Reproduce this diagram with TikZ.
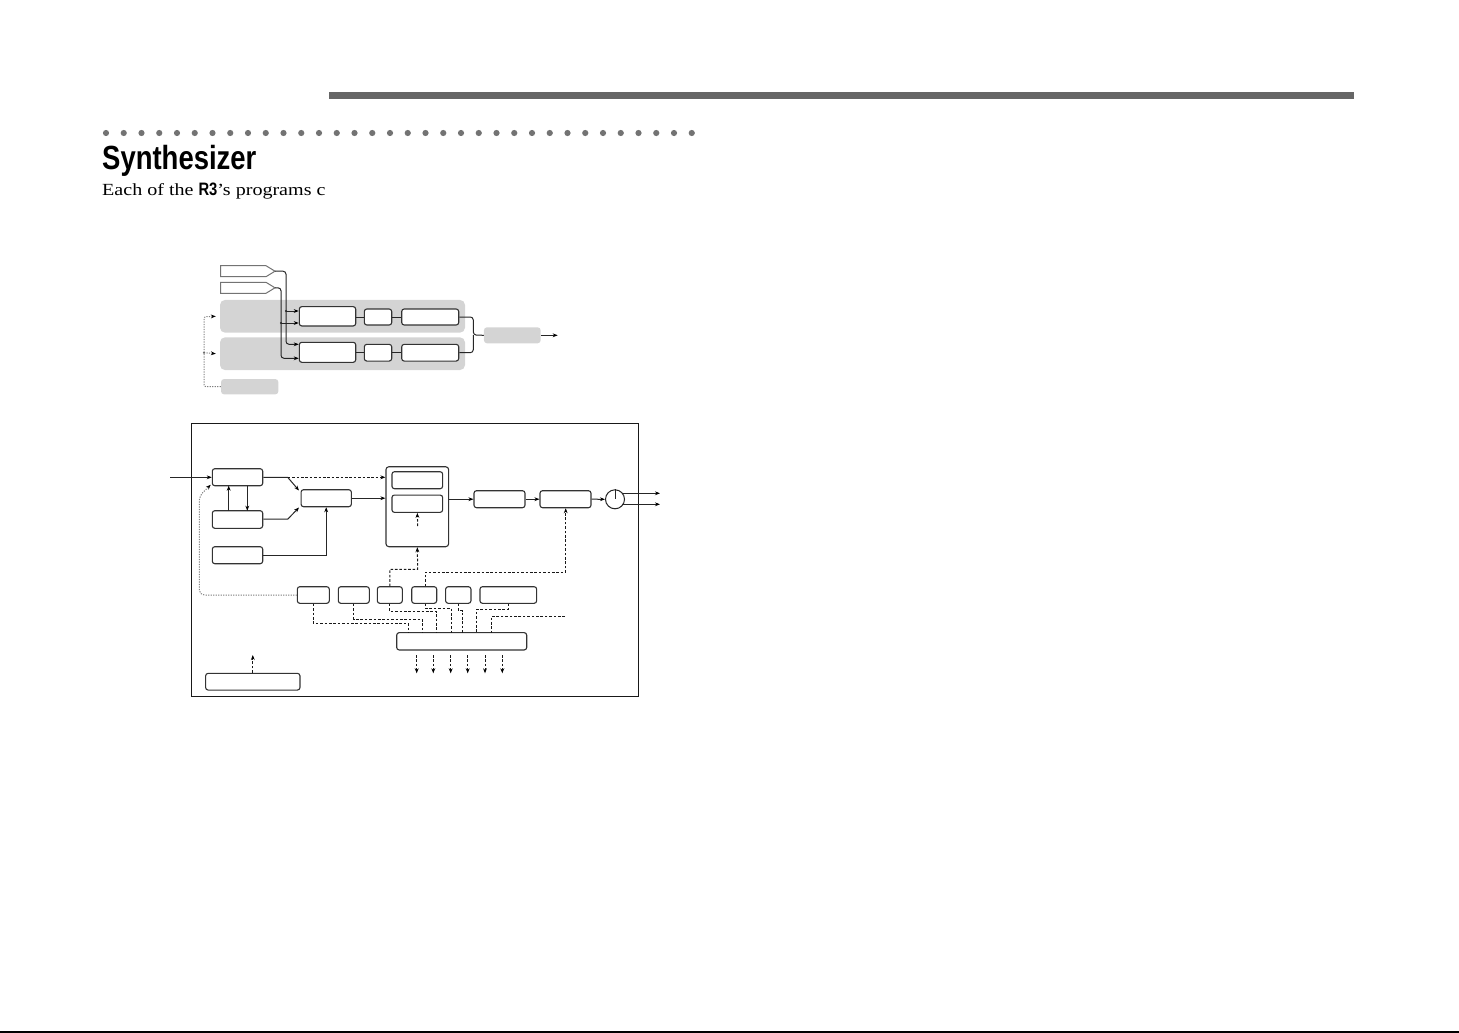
\documentclass[tikz,border=0pt]{standalone}
\usepackage{fontspec}
\usetikzlibrary{arrows.meta,calc}
\newfontfamily\titlefont[FakeStretch=0.82]{Liberation Sans}
\newfontfamily\bodyfont[FakeStretch=1.18]{Liberation Serif}
\tikzset{
  bx/.style={draw=black!80, line width=1.1pt, rounded corners=2.5pt, inner sep=0pt, fill=white},
  gpanel/.style={fill=black!17, rounded corners=5pt, inner sep=0pt, draw=none},
  conn/.style={draw=black!85, line width=1pt},
  arr/.style={-{Stealth[length=5pt,width=3.8pt,color=black]}},
  dsh/.style={draw=black!90, line width=1pt, dash pattern=on 2.6pt off 1.8pt},
  dtt/.style={draw=black!50, line width=1pt, dash pattern=on 1.2pt off 1.3pt},
  pent/.style={draw=black!55, line width=1pt, fill=white, line join=miter},
}
\begin{document}
\begin{tikzpicture}[x=1pt,y=-1pt]
\useasboundingbox (0,0) rectangle (1459,1033);
% header
\fill[black!60] (329,91.5) rectangle (1354,98.5);
\foreach \i in {0,...,33} \fill[black!55] (106+\i*17.75,133) circle (3.1);
\node[anchor=base west, inner sep=0pt] (title) at (102,169.5)
  {\titlefont\bfseries\fontsize{33.5}{40}\selectfont Synthesizer};
\node[anchor=base west, inner sep=0pt] (intro) at (102,195.8)
  {\bodyfont\fontsize{17}{20}\selectfont Each of the {\titlefont\bfseries\fontsize{18}{20}\selectfont R3}’s programs c};
\draw[black, line width=2pt] (0,1032) -- (1459,1032);

% ---------- upper diagram ----------
\node[gpanel, minimum width=245pt, minimum height=32.7pt] (pan1) at (342.5,316.3) {};
\node[gpanel, minimum width=245pt, minimum height=32.7pt] (pan2) at (342.5,353.7) {};
\node[gpanel, minimum width=56.7pt, minimum height=16pt, rounded corners=3pt] (out) at (512.3,335.3) {};
\node[gpanel, minimum width=57.3pt, minimum height=15.3pt, rounded corners=3pt] (sg) at (249.7,386.7) {};
\draw[pent] (220.7,265.7) -- (266,265.7) -- (275,271.2) -- (266,276.7) -- (220.7,276.7) -- cycle;
\coordinate (p1) at (275,271.2);
\draw[pent] (220.7,282.3) -- (266,282.3) -- (275,287.8) -- (266,293.3) -- (220.7,293.3) -- cycle;
\coordinate (p2) at (275,287.8);
\node[bx, minimum width=56.4pt, minimum height=19.3pt] (uA) at (327.5,316.3) {};
\node[bx, minimum width=27.4pt, minimum height=16pt] (uB) at (378,317) {};
\node[bx, minimum width=57pt, minimum height=16pt] (uC) at (430.2,317) {};
\node[bx, minimum width=56.4pt, minimum height=20pt] (lA) at (327.5,352.3) {};
\node[bx, minimum width=27.4pt, minimum height=16.7pt] (lB) at (378,352.7) {};
\node[bx, minimum width=57pt, minimum height=16.7pt] (lC) at (430.2,352.7) {};
\draw[conn] (uA.east |- uB) -- (uB.west);
\draw[conn] (uB.east) -- (uC.west);
\draw[conn] (lA.east |- lB) -- (lB.west);
\draw[conn] (lB.east) -- (lC.west);
\draw[conn,arr,rounded corners=3pt] (p1) -| (286,300) |- (lA.west |- 0,344.3);
\draw[conn,arr,rounded corners=3pt] (p2) -| (281,330) |- (lA.west |- 0,358.3);
\draw[conn,arr] (286,311) -- (uA.west |- 0,311);
\draw[conn,arr] (281,323) -- (uA.west |- 0,323);
\fill[black!85] (286,311) circle (1.2) (281,323) circle (1.2);
\draw[conn,rounded corners=3pt] (uC.east) -| (473.3,335) -- (out.west);
\draw[conn,rounded corners=3pt] (lC.east) -| (473.3,335);
\coordinate (oend) at (557.7,335.3);
\draw[conn,arr] (out.east) -- (oend);
\draw[dtt,arr,rounded corners=2pt] (sg.west) -| (204,316.7) -- ([xshift=-4pt]pan1.west);
\draw[dtt,arr] (204,352.7) -- ([xshift=-4pt]pan2.west);
\fill[black!60] (204,352.7) circle (1.2);

% ---------- lower diagram ----------
\node[draw=black!90, line width=1pt, minimum width=447.3pt, minimum height=272.7pt, inner sep=0pt] (frame) at (414.9,560.3) {};
\node[bx, minimum width=50.4pt, minimum height=17pt] (osc) at (237.5,477.2) {};
\node[bx, minimum width=50.4pt, minimum height=17.6pt] (b2) at (237.5,519.5) {};
\node[bx, minimum width=50.4pt, minimum height=17pt] (b3) at (237.5,555.2) {};
\node[bx, minimum width=50.3pt, minimum height=17pt] (mix) at (326.2,498.2) {};
\node[bx, minimum width=62.7pt, minimum height=80pt, rounded corners=3pt] (filt) at (417.3,506.7) {};
\node[bx, minimum width=50.7pt, minimum height=17pt] (f1) at (417.3,480.2) {};
\node[bx, minimum width=50.7pt, minimum height=17.3pt] (f2) at (417.3,503.7) {};
\node[bx, minimum width=51pt, minimum height=17pt] (amp1) at (499.5,499.2) {};
\node[bx, minimum width=51pt, minimum height=17pt] (amp2) at (565.5,499.2) {};
\node[circle, draw=black!85, line width=1pt, minimum size=19pt, inner sep=0pt] (pan) at (615,499.3) {};
\draw[conn] (pan.north) -- (pan.center);
\node[bx, minimum width=32pt, minimum height=16.6pt] (r1) at (313.3,595) {};
\node[bx, minimum width=31pt, minimum height=16.6pt] (r2) at (353.8,595) {};
\node[bx, minimum width=25pt, minimum height=16.6pt] (r3) at (389.8,595) {};
\node[bx, minimum width=25pt, minimum height=16.6pt] (r4) at (424.2,595) {};
\node[bx, minimum width=25.3pt, minimum height=16.6pt] (r5) at (458.3,595) {};
\node[bx, minimum width=56.7pt, minimum height=16.6pt] (r6) at (508.3,595) {};
\node[bx, minimum width=130pt, minimum height=17.3pt] (bus) at (461.7,641.3) {};
\node[bx, minimum width=94.3pt, minimum height=16.7pt] (bl) at (252.8,681.7) {};

\coordinate (inp) at (170,477.3);
\draw[conn,arr] (inp) -- (osc.west |- inp);
\draw[conn,arr] (228.7,510.7) -- (228.7,485.7);
\draw[conn,arr] (247.3,485.7) -- (247.3,510.7);
\draw[conn,arr] (osc.east |- 0,477.3) -- (287.7,477.3) -- (299,490.5);
\draw[conn,arr] (b2.east |- 0,519.2) -- (287.7,519.2) -- (299,507.5);
\draw[dsh,arr] (287.7,477.3) -- (filt.west |- 0,477.3);
\draw[conn,arr] (mix.east) -- (filt.west |- mix.east);
\draw[conn,arr] (b3.east) -| (mix.south);
\draw[conn,arr] (filt.east |- amp1.west) -- (amp1.west);
\draw[conn,arr] (amp1.east) -- (amp2.west);
\draw[conn,arr] (amp2.east) -- (pan.west);
\coordinate (o1) at (660,493.3);
\coordinate (o2) at (660,504.3);
\draw[conn,arr] (pan.center |- o1) ++(7.3,0) -- (o1);
\draw[conn,arr] (pan.center |- o2) ++(7.3,0) -- (o2);
% modulation paths
\draw[dsh,arr] (r3.north) |- (417.7,569.3) -- (filt.south);
\draw[dsh,arr] (417.7,526) -- (f2.south);
\draw[dsh,arr] (r4.north -| 425,0) |- (565.7,572.3) -- (amp2.south -| 565.7,0);
\draw[dtt,arr,rounded corners=5pt] (r1.west) -| (199.3,496) -- ([shift={(-1pt,1.5pt)}]osc.south west);
% into bus
\draw[dsh] (r1.south) |- (408.3,623.3) -- (408.3,632.7);
\draw[dsh] (r2.south) |- (422.3,619.3) -- (422.3,632.7);
\draw[dsh] (r3.south) |- (436.7,611.7) -- (436.7,632.7);
\draw[dsh] (r4.south -| 425,0) |- (451,608.3) -- (451,632.7);
\draw[dsh] (r5.south) |- (462.7,610.7) -- (462.7,632.7);
\draw[dsh] (r6.south) |- (476.7,609.3) -- (476.7,632.7);
\coordinate (ext) at (565,616);
\draw[dsh] (ext) -| (491.7,632.7);
% outputs of bus
\foreach \x in {416.7,433.3,450.7,467.7,485,502.3}
  \draw[dsh,arr] (\x,655) -- (\x,673.3);
\draw[dsh,arr] (bl.north) -- (bl.north |- 0,655);
\end{tikzpicture}
\end{document}
